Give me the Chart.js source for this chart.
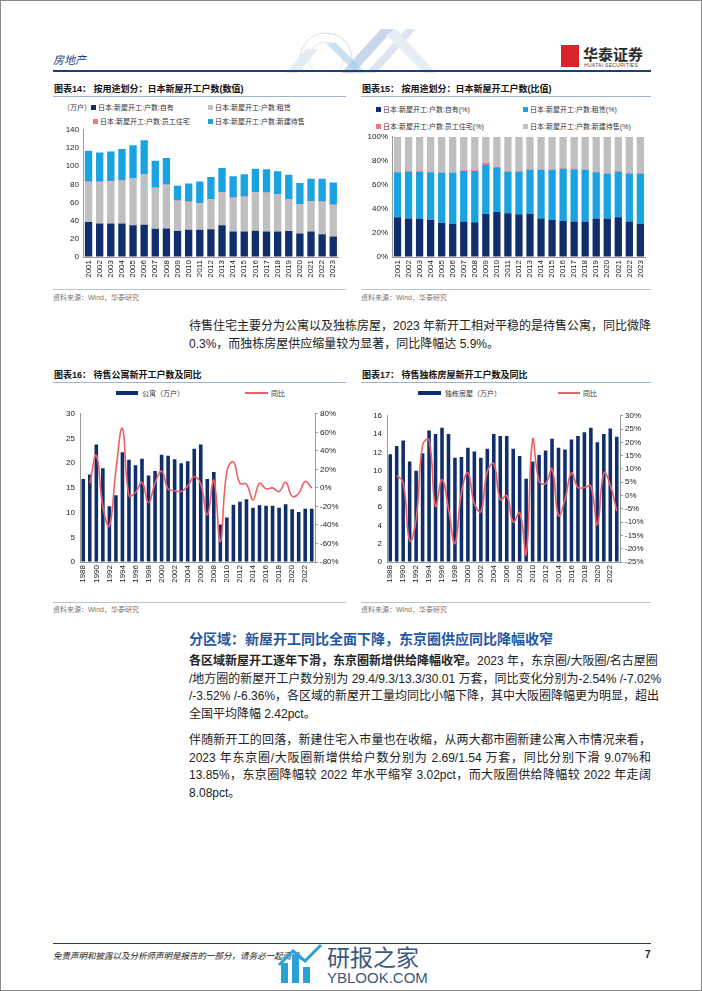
<!DOCTYPE html>
<html>
<head>
<meta charset="utf-8">
<script src="https://cdn.jsdelivr.net/npm/chart.js@4.4.1/dist/chart.umd.min.js"></script>
<style>
  body { margin: 0; background: #fff; }
  #page { position: relative; width: 702px; height: 991px; box-sizing: border-box; border: 1px solid #8a8a8a; overflow: hidden;
          font-family: "Liberation Sans", Arial, "Noto Sans CJK SC", sans-serif; color: #222; }
  .abs { position: absolute; white-space: nowrap; }
  canvas { position: absolute; }
  .ttl { font-size: 9px; font-weight: bold; color: #111; }
  .rule { position: absolute; height: 1px; background: #9fb3cf; }
  .src { font-size: 7px; color: #777; }
  .lg { font-size: 7px; color: #333; }
  .sw { display: inline-block; width: 5px; height: 5px; margin-right: 2px; vertical-align: 0px; }
  .line { position: absolute; left: 188px; width: 462px; font-size: 12px; line-height: 17.5px; text-align: justify; text-align-last: justify; white-space: nowrap; }
  .line.last { text-align-last: left; }
</style>
</head>
<body>
<div id="page">

  <!-- header -->
  <div class="abs" style="left:52px;top:50px;font-size:11px;color:#1d3f7a;font-style:italic;">房地产</div>
  <svg class="abs" style="left:265px;top:28px" width="190" height="44">
    <circle cx="60" cy="30" r="26" fill="none" stroke="#d6dde8" stroke-width="1"/>
    <circle cx="60" cy="30" r="17" fill="none" stroke="#e2e7ef" stroke-width="1"/>
    <polygon points="20,44 40,20 52,20 32,44" fill="#e4ebf4"/>
    <polygon points="75,44 115,0 128,0 88,44" fill="#c9d7ea"/>
    <polygon points="100,44 140,0 150,0 110,44" fill="#dce5f1"/>
    <polygon points="130,0 170,44 158,44 120,6" fill="#e7edf5"/>
    <polygon points="90,44 60,14 70,14 100,44" fill="#a9cbe9" opacity="0.6"/>
  </svg>
  <div class="abs" style="left:560px;top:44px;width:18px;height:22px;background:#d9232b;"></div>
  <div class="abs" style="left:582px;top:42px;font-size:15px;font-weight:bold;color:#2a2a2a;font-family:'Noto Sans CJK SC',sans-serif;">华泰证券</div>
  <div class="abs" style="left:583px;top:61px;font-size:5px;color:#444;letter-spacing:0.3px;">HUATAI SECURITIES</div>
  <div class="abs" style="left:52px;top:69px;width:598px;height:2px;background:#1e3f73;"></div>

  <!-- chart 14 -->
  <div class="abs ttl" style="left:53px;top:81px;">图表14：&nbsp;按用途划分：日本新屋开工户数(数值)</div>
  <div class="rule" style="left:52px;top:95px;width:293px;"></div>
  <div class="abs lg" style="left:62px;top:101px;">（万户）<span class="sw" style="background:#0f2e6b"></span>日本:新屋开工:户数:自有</div>
  <div class="abs lg" style="left:207px;top:101px;"><span class="sw" style="background:#bfbfbf"></span>日本:新屋开工:户数:租赁</div>
  <div class="abs lg" style="left:92px;top:115px;"><span class="sw" style="background:#f2767d"></span>日本:新屋开工:户数:员工住宅</div>
  <div class="abs lg" style="left:207px;top:115px;"><span class="sw" style="background:#1aa3e3"></span>日本:新屋开工:户数:新建待售</div>
  <canvas id="c14" width="293" height="162" style="left:52px;top:120px;width:293px;height:162px"></canvas>
  <div class="rule" style="left:52px;top:288px;width:293px;background:#b9c4d3"></div>
  <div class="abs src" style="left:52px;top:291px;">资料来源：Wind，华泰研究</div>

  <!-- chart 15 -->
  <div class="abs ttl" style="left:361px;top:81px;">图表15：&nbsp;按用途划分：日本新屋开工户数(比值)</div>
  <div class="rule" style="left:360px;top:95px;width:290px;"></div>
  <div class="abs lg" style="left:375px;top:103px;"><span class="sw" style="background:#0f2e6b"></span>日本:新屋开工:户数:自有(%)</div>
  <div class="abs lg" style="left:522px;top:103px;"><span class="sw" style="background:#1aa3e3"></span>日本:新屋开工:户数:租赁(%)</div>
  <div class="abs lg" style="left:375px;top:120px;"><span class="sw" style="background:#f2767d"></span>日本:新屋开工:户数:员工住宅(%)</div>
  <div class="abs lg" style="left:522px;top:120px;"><span class="sw" style="background:#bfbfbf"></span>日本:新屋开工:户数:新建待售(%)</div>
  <canvas id="c15" width="292" height="155" style="left:360px;top:127px;width:292px;height:155px"></canvas>
  <div class="rule" style="left:360px;top:288px;width:290px;background:#b9c4d3"></div>
  <div class="abs src" style="left:360px;top:291px;">资料来源：Wind，华泰研究</div>

  <!-- paragraph 1 -->
  <div class="line" style="top:317px;">待售住宅主要分为公寓以及独栋房屋，2023 年新开工相对平稳的是待售公寓，同比微降</div>
  <div class="line last" style="top:334.5px;">0.3%，而独栋房屋供应缩量较为显著，同比降幅达 5.9%。</div>

  <!-- chart 16 -->
  <div class="abs ttl" style="left:53px;top:367px;">图表16：&nbsp;待售公寓新开工户数及同比</div>
  <div class="rule" style="left:52px;top:381px;width:293px;"></div>
  <div class="abs" style="left:115px;top:390px;width:22px;height:4px;background:#0f2e6b"></div>
  <div class="abs lg" style="left:141px;top:387px;">公寓（万户）</div>
  <div class="abs" style="left:244px;top:391px;width:23px;height:2px;background:#ef5f66"></div>
  <div class="abs lg" style="left:270px;top:387px;">同比</div>
  <canvas id="c16" width="292" height="183" style="left:52px;top:403px;width:292px;height:183px"></canvas>
  <div class="rule" style="left:52px;top:601px;width:293px;background:#b9c4d3"></div>
  <div class="abs src" style="left:52px;top:603px;">资料来源：Wind，华泰研究</div>

  <!-- chart 17 -->
  <div class="abs ttl" style="left:361px;top:367px;">图表17：&nbsp;待售独栋房屋新开工户数及同比</div>
  <div class="rule" style="left:360px;top:381px;width:290px;"></div>
  <div class="abs" style="left:417px;top:390px;width:23px;height:4px;background:#0f2e6b"></div>
  <div class="abs lg" style="left:444px;top:387px;">独栋房屋（万户）</div>
  <div class="abs" style="left:557px;top:391px;width:22px;height:2px;background:#ef5f66"></div>
  <div class="abs lg" style="left:582px;top:387px;">同比</div>
  <canvas id="c17" width="292" height="181" style="left:360px;top:405px;width:292px;height:181px"></canvas>
  <div class="rule" style="left:360px;top:601px;width:290px;background:#b9c4d3"></div>
  <div class="abs src" style="left:360px;top:603px;">资料来源：Wind，华泰研究</div>

  <!-- section -->
  <div class="abs" style="left:188px;top:627px;font-size:14px;line-height:20px;color:#1f58a6;font-weight:bold;font-family:'Noto Sans CJK SC',sans-serif;">分区域：新屋开工同比全面下降，东京圈供应同比降幅收窄</div>
  <div class="line" style="top:652px;"><b>各区域新屋开工逐年下滑，东京圈新增供给降幅收窄。</b>2023 年，东京圈/大阪圈/名古屋圈</div>
  <div class="line" style="top:669.5px;">/地方圈的新屋开工户数分别为 29.4/9.3/13.3/30.01 万套，同比变化分别为-2.54% /-7.02%</div>
  <div class="line" style="top:687px;">/-3.52% /-6.36%，各区域的新屋开工量均同比小幅下降，其中大阪圈降幅更为明显，超出</div>
  <div class="line last" style="top:704.5px;">全国平均降幅 2.42pct。</div>
  <div class="line" style="top:731px;">伴随新开工的回落，新建住宅入市量也在收缩，从两大都市圈新建公寓入市情况来看，</div>
  <div class="line" style="top:748.5px;">2023 年东京圈/大阪圈新增供给户数分别为 2.69/1.54 万套，同比分别下滑 9.07%和</div>
  <div class="line" style="top:766px;">13.85%，东京圈降幅较 2022 年水平缩窄 3.02pct，而大阪圈供给降幅较 2022 年走阔</div>
  <div class="line last" style="top:783.5px;">8.08pct。</div>

  <!-- footer -->
  <div class="abs" style="left:52px;top:942px;width:598px;height:1px;background:#1e3f73;"></div>
  <div class="abs" style="left:52px;top:948px;font-size:8.5px;font-style:italic;color:#222;">免责声明和披露以及分析师声明是报告的一部分，请务必一起阅读。</div>
  <div class="abs" style="left:644px;top:948px;font-size:10px;font-weight:bold;">7</div>
  <svg class="abs" style="left:276px;top:942px" width="48" height="40">
    <rect x="4" y="20" width="7" height="20" fill="#2a9fd8"/>
    <rect x="15" y="12" width="7" height="28" fill="#2a9fd8"/>
    <rect x="26" y="24" width="7" height="16" fill="#2a9fd8"/>
    <polyline points="2,22 16,8 28,18 44,2" fill="none" stroke="#2a9fd8" stroke-width="3"/>
  </svg>
  <div class="abs" style="left:326px;top:938px;font-size:23px;color:#27466e;opacity:0.9;font-family:'Noto Sans CJK SC',sans-serif;">研报之家</div>
  <div class="abs" style="left:326px;top:968px;font-size:15px;color:#27466e;opacity:0.9;">YBLOOK.COM</div>
</div>

<script>
const years14 = ['2001','2002','2003','2004','2005','2006','2007','2008','2009','2010','2011','2012',
                 '2013','2014','2015','2016','2017','2018','2019','2020','2021','2022','2023'];
// chart 14: units, 万户
const own14  = [38.5,37,37,37,35,35.5,31,31.5,28.5,30,30,30.5,35,28,28,29,28,28,28.5,26,28,25,22.5];
const rent14 = [43.5,45,46,47,51,55,45,47.5,32.5,30.5,29,32.5,36,37,38,42,42.5,40.5,34.5,31.5,33,35.5,34.5];
const emp14  = [0.8,0.8,0.7,0.7,0.7,0.7,0.7,0.7,1.2,0.6,0.5,0.5,0.6,0.5,0.6,0.5,0.5,0.5,0.5,0.5,0.5,0.5,0.5];
const sale14 = [34.2,32.2,32.3,34.3,36.3,37.3,29.3,29.3,16.3,19.9,23.5,24.5,26.4,23.5,24.4,25.5,25.5,25.5,27,23.5,24.5,25,24.5];
// chart 15: share, %
const own15  = [33,32,32,31,28.5,27.5,29.5,29,36,37.5,36.5,35.5,36,32,31,30,29.5,29.5,32,32,33,29.5,27.5];
const rent15 = [37.5,39,39,39.5,41.5,42.5,42,42.5,40.5,36.5,34.5,35.5,36.5,40.5,41.5,43.5,43.5,43,38.5,37.5,38,40,42];
const emp15  = [0.7,0.7,0.7,0.6,0.6,0.6,0.7,0.7,1.6,0.8,0.6,0.6,0.6,0.6,0.6,0.6,0.6,0.6,0.6,0.6,0.6,0.6,0.6];
const sale15 = [28.8,28.3,28.3,28.9,29.4,29.4,27.8,27.8,21.9,25.2,28.4,28.4,26.9,26.9,26.9,25.9,26.4,26.9,28.9,29.9,28.4,29.9,29.9];

const years16 = ['1988','1989','1990','1991','1992','1993','1994','1995','1996','1997','1998','1999',
                 '2000','2001','2002','2003','2004','2005','2006','2007','2008','2009','2010','2011',
                 '2012','2013','2014','2015','2016','2017','2018','2019','2020','2021','2022','2023'];
// chart 16: apartments
const apt16 = [16.8,17.7,23.8,19.0,11.3,13.5,22.2,20.7,19.6,20.9,17.5,18.4,21.7,21.5,20.8,20.0,20.4,22.9,23.8,16.8,
               18.2,7.6,9.0,11.6,12.2,12.7,11.0,11.5,11.4,11.4,11.0,11.7,10.7,10.1,10.8,10.8];
const aptYoy16 = [null,5,35,-20,-41,19,64,-8,-5,6,-16,5,18,-1,-3,-4,2,12,4,-29,
                  8,-58,18,28,5,4,-13,5,-1,0,-4,6,-9,-6,7,-0.3];
// chart 17: detached houses
const house17 = [11.8,12.7,13.3,11.0,10.0,11.9,14.4,14.0,14.7,14.0,11.4,11.5,12.5,12.1,11.4,12.4,14.0,13.8,13.8,12.4,
                 11.6,9.1,11.0,11.7,12.2,13.5,12.5,12.3,13.4,13.8,14.2,14.7,13.1,14.0,14.6,13.7];
const houseYoy17 = [null,7.5,5,-17,-9,19,21,-4,6,-5,-18,1,8.5,-3,-6,9,12,-1.5,0,-10,
                    -6.5,-22,21,5.5,4.5,10,-7.5,-1.5,8.5,3,3,3.5,-11,8.5,4,-5.9];

const NAVY = '#0f2e6b', GREY = '#bfbfbf', PINK = '#f2767d', SKY = '#1aa3e3', RED = '#ef5f66';
const AXIS = '#9a9a9a';
Chart.defaults.font.family = '"Liberation Sans", Arial, "Noto Sans CJK SC", sans-serif';
Chart.defaults.font.size = 8;
Chart.defaults.color = '#222';

function baseOptions(pad) {
  return {
    responsive: false,
    animation: false,
    layout: { padding: pad },
    plugins: { legend: { display: false }, tooltip: { enabled: false } },
  };
}

function xAxis(height, everyOther) {
  return {
    stacked: true,
    grid: { drawOnChartArea: false, drawTicks: false },
    border: { color: AXIS },
    ticks: {
      autoSkip: false, maxRotation: 90, minRotation: 90, padding: 3,
      callback: function (v, i) {
        if (everyOther && i % 2) return '';
        return this.getLabelForValue(v);
      }
    },
    afterFit: s => { s.height = height; }
  };
}

function stackChart(id, labels, sets, yMax, step, fmt, pad, yWidth) {
  const opts = baseOptions(pad);
  opts.datasets = { bar: { barPercentage: 0.66, categoryPercentage: 1 } };
  opts.scales = {
    x: xAxis(26, false),
    y: {
      stacked: true, min: 0, max: yMax,
      grid: { drawOnChartArea: false, drawTicks: false },
      border: { color: AXIS },
      ticks: { stepSize: step, padding: 4, callback: fmt },
      afterFit: s => { s.width = yWidth; }
    }
  };
  return new Chart(document.getElementById(id), {
    type: 'bar',
    data: { labels: labels, datasets: sets },
    options: opts
  });
}

stackChart('c14', years14, [
  { label: '日本:新屋开工:户数:自有', data: own14, backgroundColor: NAVY },
  { label: '日本:新屋开工:户数:租赁', data: rent14, backgroundColor: GREY },
  { label: '日本:新屋开工:户数:员工住宅', data: emp14, backgroundColor: PINK },
  { label: '日本:新屋开工:户数:新建待售', data: sale14, backgroundColor: SKY }
], 140, 20, v => v, { top: 8, right: 7 }, 30);

stackChart('c15', years14, [
  { label: '日本:新屋开工:户数:自有(%)', data: own15, backgroundColor: NAVY },
  { label: '日本:新屋开工:户数:租赁(%)', data: rent15, backgroundColor: SKY },
  { label: '日本:新屋开工:户数:员工住宅(%)', data: emp15, backgroundColor: PINK },
  { label: '日本:新屋开工:户数:新建待售(%)', data: sale15, backgroundColor: GREY }
], 100, 10, v => v + '%', { top: 8, right: 1 }, 31);

function comboChart(id, barLabel, bars, yoy, yMax, yStep, rMin, rMax, rStep, pad, yWidth, rWidth) {
  const opts = baseOptions(pad);
  opts.scales = {
    x: xAxis(25, true),
    y: {
      min: 0, max: yMax,
      grid: { drawOnChartArea: false, drawTicks: false },
      border: { color: AXIS },
      ticks: { stepSize: yStep, padding: 5 },
      afterFit: s => { s.width = yWidth; }
    },
    y1: {
      position: 'right', min: rMin, max: rMax,
      grid: { drawOnChartArea: false, drawTicks: true, tickLength: 3, color: AXIS },
      border: { color: AXIS },
      ticks: { stepSize: rStep, padding: 2, callback: v => v + '%' },
      afterFit: s => { s.width = rWidth; }
    }
  };
  return new Chart(document.getElementById(id), {
    type: 'bar',
    data: {
      labels: years16,
      datasets: [
        { type: 'line', label: '同比', data: yoy, yAxisID: 'y1', borderColor: RED, borderWidth: 1.6,
          pointRadius: 0, tension: 0.45, order: 0 },
        { label: barLabel, data: bars, yAxisID: 'y', backgroundColor: NAVY,
          barPercentage: 0.55, categoryPercentage: 1, order: 1 }
      ]
    },
    options: opts
  });
}

comboChart('c16', '公寓（万户）', apt16, aptYoy16, 30, 5, -80, 80, 20, { top: 8, right: 0 }, 27, 30);
comboChart('c17', '独栋房屋（万户）', house17, houseYoy17, 16, 2, -25, 30, 5, { top: 8, right: 0 }, 26, 33);
</script>
</body>
</html>
